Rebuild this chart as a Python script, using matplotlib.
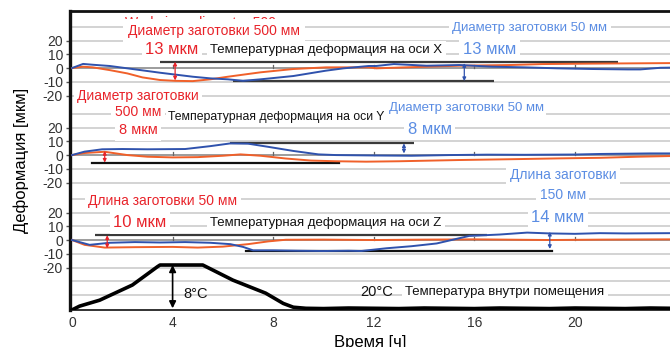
import matplotlib
matplotlib.use("Agg")
import matplotlib.pyplot as plt
import numpy as np

plt.rcParams['font.family'] = ['Liberation Sans', 'DejaVu Sans']

# ---- data -------------------------------------------------------------
hours_ticks = [0, 4, 8, 12, 16, 20]
dev_ticks = [20, 10, 0, -10, -20]

# X axis deformation (µm)
x_red_t = [0, 0.44, 0.83, 1.5, 2.2, 2.8, 3.5, 4.1, 4.8, 5.5, 6.2, 7.5, 8.8, 10.1, 10.8, 11.8,
           12.1, 14.1, 15.4, 17.4, 18.7, 20.5, 22.1, 23.8]
x_red_v = [0, 1.0, 0.5, -1.5, -3.9, -6.8, -8.7, -9.3, -9.5, -8.2, -6.3, -3.1, -0.7, 0.5, 0.5, 0.5,
           -0.2, 1.0, 1.7, 2.2, 2.9, 3.2, 3.4, 3.6]
x_blue_t = [0, 0.44, 0.83, 1.5, 2.2, 3.5, 4.8, 5.5, 6.2, 6.8, 7.5, 8.8, 10.1, 10.8, 11.8,
            12.1, 12.8, 14.1, 15.4, 16.7, 18.0, 19.3, 20.7, 22.1, 22.6, 23.4, 23.8]
x_blue_v = [0, 3.0, 2.4, 1.5, -0.2, -3.4, -6.3, -7.5, -8.2, -9.3, -8.2, -5.8, -1.9, -0.2, 1.5,
            1.5, 2.9, 1.7, 2.2, 1.0, 0.5, -0.2, -0.7, -1.0, -1.0, 0.2, 0.3]

# Y axis deformation (µm)
y_red_t = [0, 0.5, 1.3, 2.2, 3.0, 4.0, 5.0, 6.0, 6.7, 7.5, 8.5, 9.5, 10.5, 11.7, 13.0, 15.4,
           17.5, 19.4, 21.0, 22.5, 23.8]
y_red_v = [0, 1.5, 2.4, 0.0, -1.2, -1.7, -1.5, -0.5, 0.5, -0.5, -2.5, -4.0, -4.5, -4.8, -4.5,
           -3.6, -3.0, -2.4, -2.0, -1.2, -0.7]
y_blue_t = [0, 0.5, 1.2, 2.0, 3.0, 4.5, 5.5, 6.3, 7.0, 7.8, 8.8, 9.8, 10.5, 12.0, 13.5, 15.0,
            16.5, 18.0, 20.0, 21.0, 23.0, 23.8]
y_blue_v = [0, 2.5, 4.2, 4.4, 4.2, 4.4, 6.5, 8.5, 8.3, 6.0, 3.0, 0.5, 0.0, -0.3, -0.5, 0.0,
            0.3, 0.2, 0.4, 0.8, 1.2, 1.2]

# Z axis deformation (µm)
z_red_t = [0, 0.5, 1.3, 2.5, 4.0, 5.0, 6.0, 7.0, 7.8, 8.5, 10.0, 12.0, 14.0, 16.0, 19.0, 21.0, 23.8]
z_red_v = [0, -3.5, -5.5, -5.2, -5.0, -5.5, -4.8, -3.0, -1.0, 0.2, 0.3, 0.0, 0.3, 0.5, 0.0, 0.3, 0.5]
z_blue_t = [0, 0.7, 1.5, 2.5, 3.5, 4.5, 5.5, 6.3, 6.8, 7.2, 8.0, 9.0, 10.0, 11.0, 11.5, 12.5,
            13.5, 14.5, 15.8, 17.0, 18.1, 19.0, 20.0, 21.0, 22.0, 23.8]
z_blue_v = [0, -3.5, -2.0, -1.5, -1.8, -1.5, -2.0, -3.0, -5.0, -7.5, -7.5, -7.8, -8.0, -7.8, -8.0,
            -6.0, -4.5, -2.5, 3.0, 4.0, 5.4, 4.8, 4.5, 5.0, 4.8, 5.0]

# room temperature (°C)
temp_t = [0, 0.3, 1.1, 2.4, 3.4, 3.5, 5.2, 6.4, 7.7, 8.4, 8.8, 9.3, 10, 11, 12, 13, 14, 15,
          16, 17, 18, 19, 20, 21, 22, 23, 23.8]
temp_v = [19.7, 20.4, 21.5, 24.3, 27.7, 28.0, 28.0, 25.2, 22.8, 20.9, 20.2, 20.0, 19.95, 20.05,
          20.0, 19.95, 20.05, 20.0, 19.95, 20.05, 20.0, 19.95, 20.05, 20.0, 19.95, 20.05, 20.0]

# ---- layout -----------------------------------------------------------
W, H = 670, 347
fig = plt.figure(figsize=(W / 100, H / 100), dpi=100)
ax = fig.add_axes([70 / W, 37 / H, 600 / W, 299 / H])
ax.set_xlim(-0.08, 23.78)
ax.set_ylim(0, 217.5)

OFF_X, OFF_Y, OFF_Z = 176.0, 112.7, 50.9

RED = '#f0602a'
BLUE = '#2f52ad'
TXT_RED = '#e8232a'
TXT_BLUE = '#5b8de3'
GRID = '#cccccc'

# background grid
grid_levels = [OFF_X + k for k in (30, 20, 10, -10, -20)] + \
              [OFF_Y + k for k in (30, 20, 10, -10, -20)] + \
              [OFF_Z + k for k in (30, 20, 10, -10, -20, -30, -40)]
for g in grid_levels:
    ax.axhline(g, color=GRID, lw=1.2, zorder=1)
for off in (OFF_X, OFF_Y, OFF_Z):
    ax.axhline(off, color='#9c9c9c', lw=1.4, zorder=1)
    for h in hours_ticks[1:]:
        ax.plot([h, h], [off, off + 2.2], color='#666666', lw=0.9, zorder=2)

# dimension lines
dim = dict(color='#3a3a3a', lw=1.6, zorder=3, solid_capstyle='butt')
ax.plot([3.5, 21.7], [OFF_X + 4.6, OFF_X + 4.6], **dim)
ax.plot([6.4, 16.8], [OFF_X - 9.5, OFF_X - 9.5], **dim)
ax.plot([6.3, 13.6], [OFF_Y + 9.0, OFF_Y + 9.0], **dim)
ax.plot([0.8, 10.6], [OFF_Y - 6.0, OFF_Y - 6.0], color='#111111', lw=1.6, zorder=3)
ax.plot([0.9, 16.5], [OFF_Z + 3.5, OFF_Z + 3.5], **dim)
ax.plot([6.9, 19.1], [OFF_Z - 8.0, OFF_Z - 8.0], color='#111111', lw=1.6, zorder=3)

# deformation curves
for t, v, off in ((x_red_t, x_red_v, OFF_X), (y_red_t, y_red_v, OFF_Y), (z_red_t, z_red_v, OFF_Z)):
    ax.plot(t, np.array(v) + off, color=RED, lw=1.4, zorder=4)
for t, v, off in ((x_blue_t, x_blue_v, OFF_X), (y_blue_t, y_blue_v, OFF_Y), (z_blue_t, z_blue_v, OFF_Z)):
    ax.plot(t, np.array(v) + off, color=BLUE, lw=1.4, zorder=4)


def span_arrow(axis, x, y0, y1, color, ms=5, lw=0.9):
    axis.annotate('', xy=(x, y1), xytext=(x, y0),
                  arrowprops=dict(arrowstyle='<|-|>', color=color, lw=lw,
                                  mutation_scale=ms, shrinkA=0, shrinkB=0), zorder=5)


span_arrow(ax, 4.1, OFF_X + 4.6, OFF_X - 9.0, TXT_RED)
span_arrow(ax, 15.6, OFF_X + 3.6, OFF_X - 9.5, BLUE)
span_arrow(ax, 1.3, OFF_Y + 3.0, OFF_Y - 5.5, TXT_RED)
span_arrow(ax, 13.2, OFF_Y + 8.5, OFF_Y + 1.2, BLUE)
span_arrow(ax, 1.4, OFF_Z + 3.5, OFF_Z - 6.0, TXT_RED)
span_arrow(ax, 19.0, OFF_Z + 6.0, OFF_Z - 6.5, BLUE)

# temperature on its own scale
axt = ax.twinx()
axt.set_ylim(19.686, 74.95)
axt.set_xlim(ax.get_xlim())
axt.plot(temp_t, temp_v, color='black', lw=2.6, zorder=4, solid_joinstyle='round')
span_arrow(axt, 4.0, 28.0, 20.0, 'black', ms=10, lw=1.2)
axt.set_yticks([])
for s in axt.spines.values():
    s.set_visible(False)

# ---- text -------------------------------------------------------------


def label(axis, x, y, s, color, size, ha='center', pad=2.5, bbox=True, z=6):
    axis.text(x, y, s, color=color, fontsize=size, ha=ha, va='center',
              bbox=dict(facecolor='white', edgecolor='none', pad=pad) if bbox else None,
              zorder=z)


label(ax, 5.65, 208.7, 'Workpiece diameter 500 mm', TXT_RED, 10, bbox=False, z=5)
label(ax, 5.65, 202.9, 'Диаметр заготовки 500 мм', TXT_RED, 10, pad=3.5)
label(ax, 3.98, 189.8, '13 мкм', TXT_RED, 12)
label(ax, 5.49, 189.1, 'Температурная деформация на оси X', '#111111', 9.5, ha='left', z=7)
label(ax, 18.2, 205.1, 'Диаметр заготовки 50 мм', TXT_BLUE, 9.5)
label(ax, 16.6, 189.8, '13 мкм', TXT_BLUE, 12)

label(ax, 2.62, 155.6, 'Диаметр заготовки', TXT_RED, 10)
label(ax, 2.62, 144.0, '500 мм', TXT_RED, 10)
label(ax, 2.62, 130.9, '8 мкм', TXT_RED, 10.5)
label(ax, 3.82, 140.4, 'Температурная деформация на оси Y', '#111111', 8.8, ha='left', pad=1.5, z=7)
label(ax, 15.67, 146.9, 'Диаметр заготовки 50 мм', TXT_BLUE, 9.5, pad=1.5)
label(ax, 14.23, 131.6, '8 мкм', TXT_BLUE, 12)

label(ax, 3.6, 79.3, 'Длина заготовки 50 мм', TXT_RED, 10)
label(ax, 2.7, 63.3, '10 мкм', TXT_RED, 12)
label(ax, 5.49, 63.3, 'Температурная деформация на оси Z', '#111111', 9.5, ha='left', z=7)
label(ax, 19.52, 98.2, 'Длина заготовки', TXT_BLUE, 10)
label(ax, 19.52, 83.6, '150 мм', TXT_BLUE, 10)
label(ax, 19.32, 67.6, '14 мкм', TXT_BLUE, 12)

label(axt, 4.41, 22.64, '8°C', '#111111', 10.5, ha='left', bbox=False)
label(axt, 11.45, 23.0, '20°C', '#111111', 10.5, ha='left', bbox=False)
label(axt, 13.24, 23.0, 'Температура внутри помещения', '#111111', 9.5, ha='left')

# ---- axes styling -----------------------------------------------------
ax.set_xticks(hours_ticks)
ax.set_xticklabels([str(h) for h in hours_ticks])
ticks_pos, ticks_lab = [], []
for off in (OFF_X, OFF_Y, OFF_Z):
    for d in dev_ticks:
        ticks_pos.append(off + d)
        ticks_lab.append(str(d))
ax.set_yticks(ticks_pos)
ax.set_yticklabels(ticks_lab)
ax.tick_params(axis='y', length=3, width=1, pad=2, labelsize=10, labelcolor='#333333', color='#555555')
ax.tick_params(axis='x', length=0, pad=4, labelsize=10, labelcolor='#333333')
ax.spines['right'].set_visible(False)
ax.spines['left'].set_linewidth(2.4)
ax.spines['top'].set_linewidth(2.0)
ax.spines['bottom'].set_linewidth(1.2)
for s in ('left', 'top', 'bottom'):
    ax.spines[s].set_color('#111111')

ax.set_ylabel('Деформация [мкм]', fontsize=12, labelpad=10)
ax.set_xlabel('Время [ч]', fontsize=12, labelpad=4)

fig.savefig('out.png', dpi=100)
